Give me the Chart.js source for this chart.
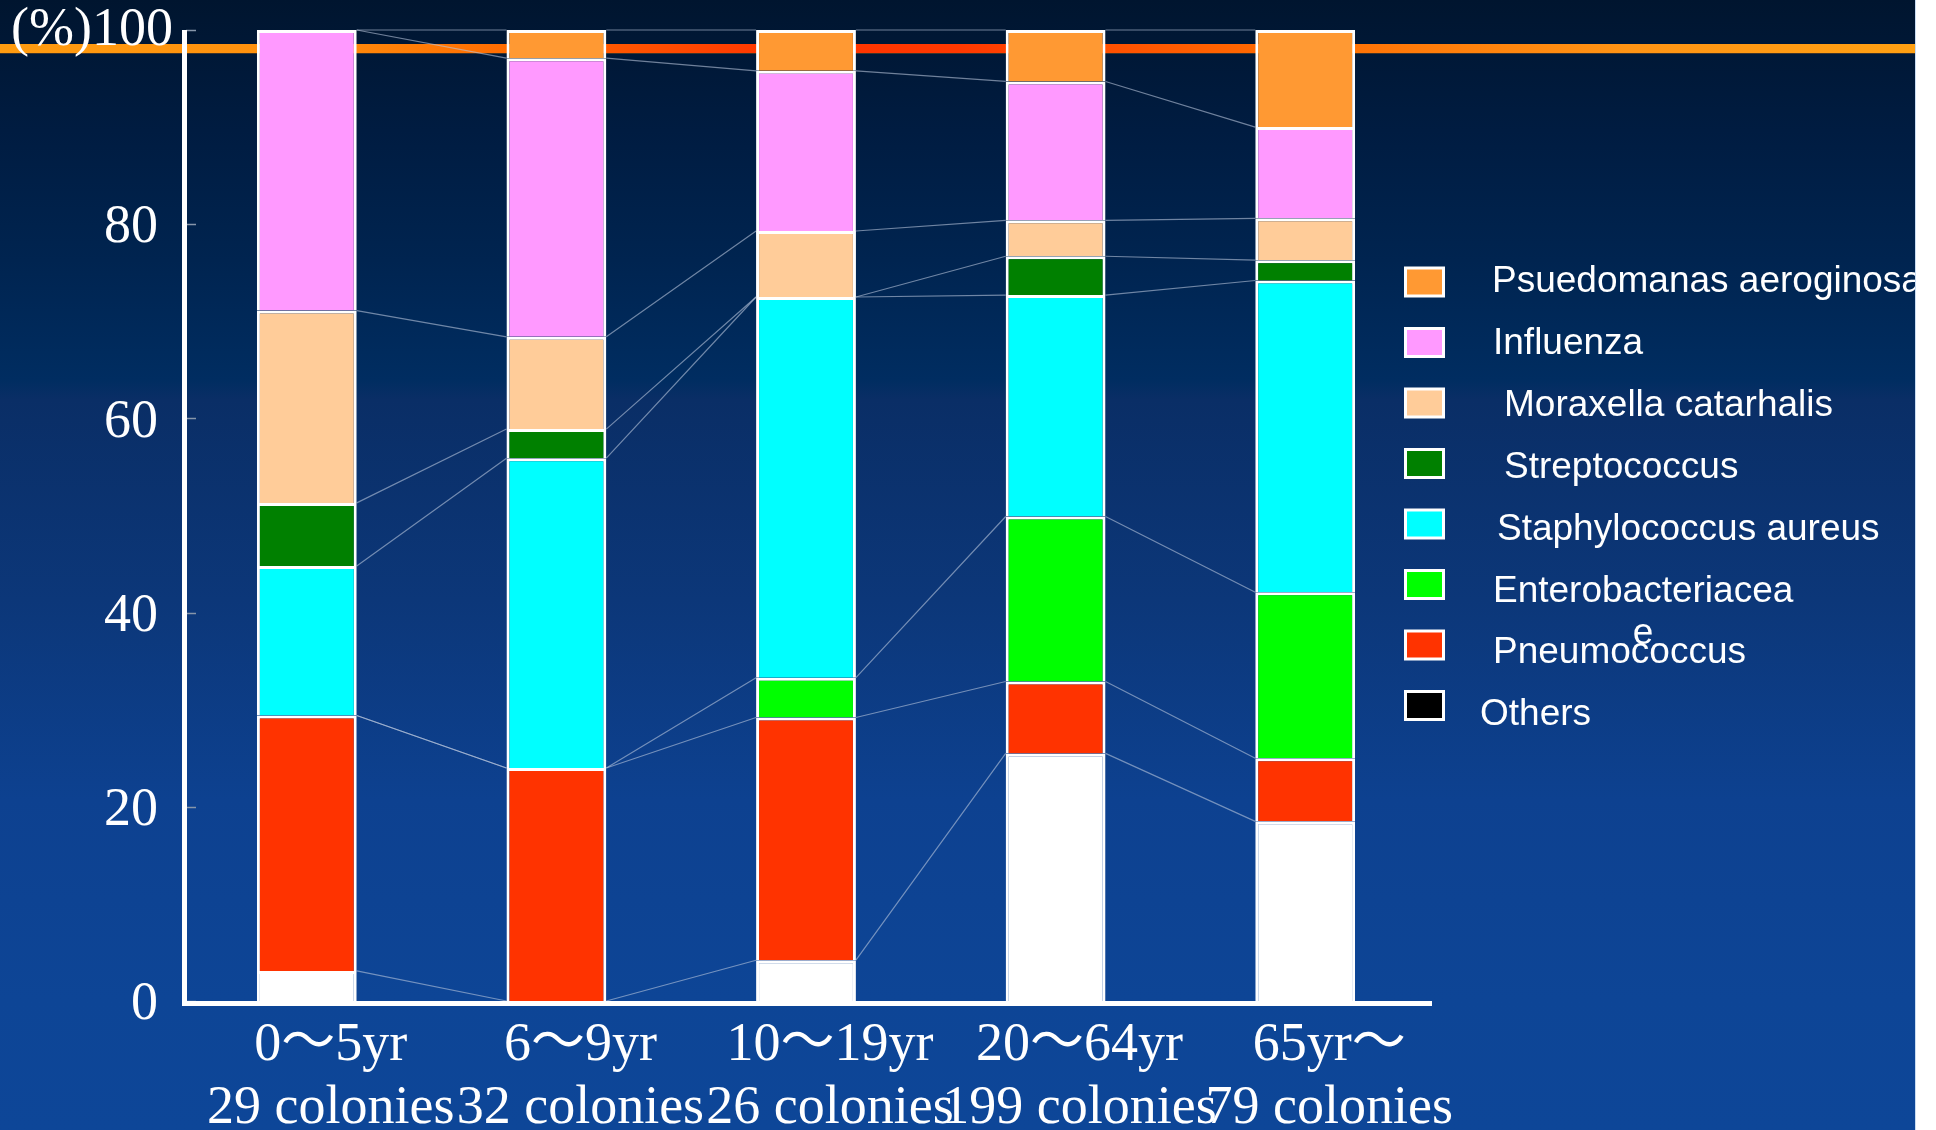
<!DOCTYPE html>
<html>
<head>
<meta charset="utf-8">
<title>Isolates by age group</title>
<script src="https://cdn.jsdelivr.net/npm/chart.js@4/dist/chart.umd.min.js"></script>
<style>
  html, body { margin: 0; padding: 0; background: #ffffff; overflow: hidden; }
  #wrap {
    position: relative;
    width: 1915px;
    height: 1130px;
    border-right: 1px solid #c9dcf2;
    background: linear-gradient(to bottom,
      #00152f 0px, #001c41 130px, #002450 260px, #002d61 380px,
      #0a2e66 400px, #0c3779 600px, #0d4190 800px, #0d4596 1000px, #0d4698 1130px);
  }
  canvas { display: block; }
</style>
</head>
<body>
<div id="wrap"><canvas id="chart"></canvas></div>
<script>
// ---- data -------------------------------------------------------------
const ageGroups    = ['0～5yr', '6～9yr', '10～19yr', '20～64yr', '65yr～'];
const colonyCounts = ['29 colonies', '32 colonies', '26 colonies', '199 colonies', '79 colonies'];
const yTicks       = [0, 20, 40, 60, 80, 100];

// percentage of isolates per age group (stacked bottom -> top)
const others         = [3.1,  0.0,  4.2, 25.5, 18.5];
const pneumococcus   = [26.3, 24.0, 25.0,  7.4,  6.5];
const enterobacteria = [0.0,  0.0,  4.1, 17.0, 17.1];
const staphAureus    = [15.4, 31.9, 39.2, 22.8, 32.1];
const streptococcus  = [6.5,  3.0,  0.0,  4.0,  2.1];
const moraxella      = [19.8,  9.5,  6.8,  3.7,  4.3];
const influenza      = [28.9, 28.7, 16.5, 14.3,  9.4];
const pseudomonas    = [0.0,  2.9,  4.2,  5.3, 10.0];

const seriesNames = [
  'Others', 'Pneumococcus', ['Enterobacteriacea', 'e'], 'Staphylococcus aureus',
  'Streptococcus', 'Moraxella catarhalis', 'Influenza', 'Psuedomanas aeroginosa'
];
const seriesValues = [others, pneumococcus, enterobacteria, staphAureus,
                      streptococcus, moraxella, influenza, pseudomonas];

// ---- styles -----------------------------------------------------------
const barColors    = ['#ffffff', '#ff3300', '#00ff00', '#00ffff', '#008000', '#ffcc99', '#ff99ff', '#ff9933'];
const legendColors = ['#000000', '#ff3300', '#00ff00', '#00ffff', '#008000', '#ffcc99', '#ff99ff', '#ff9933'];
const serif = "'Liberation Serif', 'Times New Roman', 'Noto Sans CJK JP', serif";
const sans  = "'Liberation Sans', Arial, sans-serif";

const datasets = seriesValues.map((vals, k) => ({
  label: Array.isArray(seriesNames[k]) ? seriesNames[k].join('') : seriesNames[k],
  data: vals,
  backgroundColor: barColors[k],
  borderColor: '#ffffff',
  borderWidth: 3,
  borderSkipped: 'start',
  barPercentage: 0.4,
  categoryPercentage: 1.0
}));

// decorative rule across the top of the slide
const topRule = {
  id: 'topRule',
  beforeDraw(chart) {
    const ctx = chart.ctx, w = chart.width;
    const g = ctx.createLinearGradient(0, 0, w, 0);
    g.addColorStop(0.00, '#ff9c10');
    g.addColorStop(0.16, '#ff8f0c');
    g.addColorStop(0.27, '#ff6a00');
    g.addColorStop(0.41, '#ff3300');
    g.addColorStop(0.50, '#ff3800');
    g.addColorStop(0.65, '#ff6600');
    g.addColorStop(0.85, '#ff9414');
    g.addColorStop(1.00, '#ffa012');
    ctx.save();
    ctx.fillStyle = g;
    ctx.fillRect(0, 44, w, 9);
    ctx.fillStyle = 'rgba(70,55,40,0.9)';
    ctx.fillRect(0, 53, w, 1);
    ctx.restore();
  }
};

// thin lines joining the top of each series from one bar to the next
const seriesLines = {
  id: 'seriesLines',
  beforeDatasetsDraw(chart) {
    const ctx = chart.ctx, ys = chart.scales.y;
    const cum = ageGroups.map(() => 0);
    ctx.save();
    ctx.strokeStyle = 'rgba(185,198,220,0.6)';
    ctx.lineWidth = 1.2;
    chart.data.datasets.forEach((ds, d) => {
      const meta = chart.getDatasetMeta(d);
      ds.data.forEach((v, i) => { cum[i] += v; });
      ctx.beginPath();
      for (let i = 0; i < ds.data.length - 1; i++) {
        const a = meta.data[i], b = meta.data[i + 1];
        ctx.moveTo(a.x + a.width / 2, ys.getPixelForValue(cum[i]));
        ctx.lineTo(b.x - b.width / 2, ys.getPixelForValue(cum[i + 1]));
      }
      ctx.stroke();
    });
    ctx.restore();
  }
};

// axis lines, inner tick marks, unit label and the legend
const decorations = {
  id: 'decorations',
  afterDatasetsDraw(chart) {
    const ctx = chart.ctx, a = chart.chartArea, ys = chart.scales.y;
    ctx.save();
    // tick marks on the inside of the value axis
    ctx.strokeStyle = '#8796aa';
    ctx.lineWidth = 1.5;
    ys.ticks.forEach(t => {
      const p = Math.round(ys.getPixelForValue(t.value)) + 0.5;
      ctx.beginPath(); ctx.moveTo(a.left + 4, p); ctx.lineTo(a.left + 14, p); ctx.stroke();
    });
    // axis lines
    ctx.fillStyle = '#ffffff';
    ctx.fillRect(a.left, a.top, 5, a.bottom - a.top + 5);
    ctx.fillRect(a.left, a.bottom, a.right - a.left + 2, 5);
    // unit and top value
    ctx.font = '54px ' + serif;
    ctx.textAlign = 'right';
    ctx.textBaseline = 'middle';
    ctx.fillText('(%)100', a.left - 9, ys.getPixelForValue(100) + 1);
    ctx.restore();
  },
  afterDraw(chart) {
    const ctx = chart.ctx;
    const n = chart.data.datasets.length;
    const textShift = [0, 1, 12, 12, 5, 1, 1, -12];
    ctx.save();
    ctx.font = '37px ' + sans;
    ctx.textAlign = 'left';
    ctx.textBaseline = 'alphabetic';
    for (let i = 0; i < n; i++) {
      const k = n - 1 - i;
      const sy = 282 + i * 60.5;
      ctx.fillStyle = '#ffffff';
      ctx.fillRect(1404, sy - 15.5, 41, 31);
      ctx.fillStyle = legendColors[k];
      ctx.fillRect(1407, sy - 12.5, 35, 25);
      const lines = Array.isArray(seriesNames[k]) ? seriesNames[k] : [seriesNames[k]];
      const tx = 1492 + textShift[i];
      const ty = 292 + i * 61.9;
      ctx.fillStyle = '#ffffff';
      ctx.fillText(lines[0], tx, ty);
      const mid = tx + ctx.measureText(lines[0]).width / 2;
      for (let j = 1; j < lines.length; j++) {
        ctx.textAlign = 'center';
        ctx.fillText(lines[j], mid, ty + 42 * j);
        ctx.textAlign = 'left';
      }
    }
    ctx.restore();
  }
};

new Chart(document.getElementById('chart'), {
  type: 'bar',
  data: {
    labels: ageGroups.map((g, i) => [g, colonyCounts[i]]),
    datasets: datasets
  },
  options: {
    responsive: true,
    maintainAspectRatio: false,
    animation: false,
    devicePixelRatio: 1,
    layout: { padding: { top: 30, right: 485, left: 0, bottom: 0 } },
    plugins: { legend: { display: false }, tooltip: { enabled: false } },
    scales: {
      x: {
        stacked: true,
        grid: { display: false, drawTicks: false },
        border: { display: false },
        afterFit(scale) { scale.height = 129; scale.paddingLeft = 0; scale.paddingRight = 0; },
        ticks: {
          color: '#ffffff',
          font: { family: serif, size: 54, lineHeight: 63 / 54 },
          padding: 13,
          labelOffset: 24,
          autoSkip: false,
          maxRotation: 0,
          minRotation: 0
        }
      },
      y: {
        stacked: true,
        min: 0,
        max: 100,
        grid: { display: false, drawTicks: false },
        border: { display: false },
        afterFit(scale) { scale.width = 182; scale.paddingTop = 0; scale.paddingBottom = 0; },
        afterBuildTicks(scale) { scale.ticks = yTicks.map(v => ({ value: v })); },
        ticks: {
          color: '#ffffff',
          font: { family: serif, size: 54 },
          padding: 24,
          labelOffset: 4,
          callback: v => (v === 100 ? '' : String(v))
        }
      }
    }
  },
  plugins: [topRule, seriesLines, decorations]
});
</script>
</body>
</html>
